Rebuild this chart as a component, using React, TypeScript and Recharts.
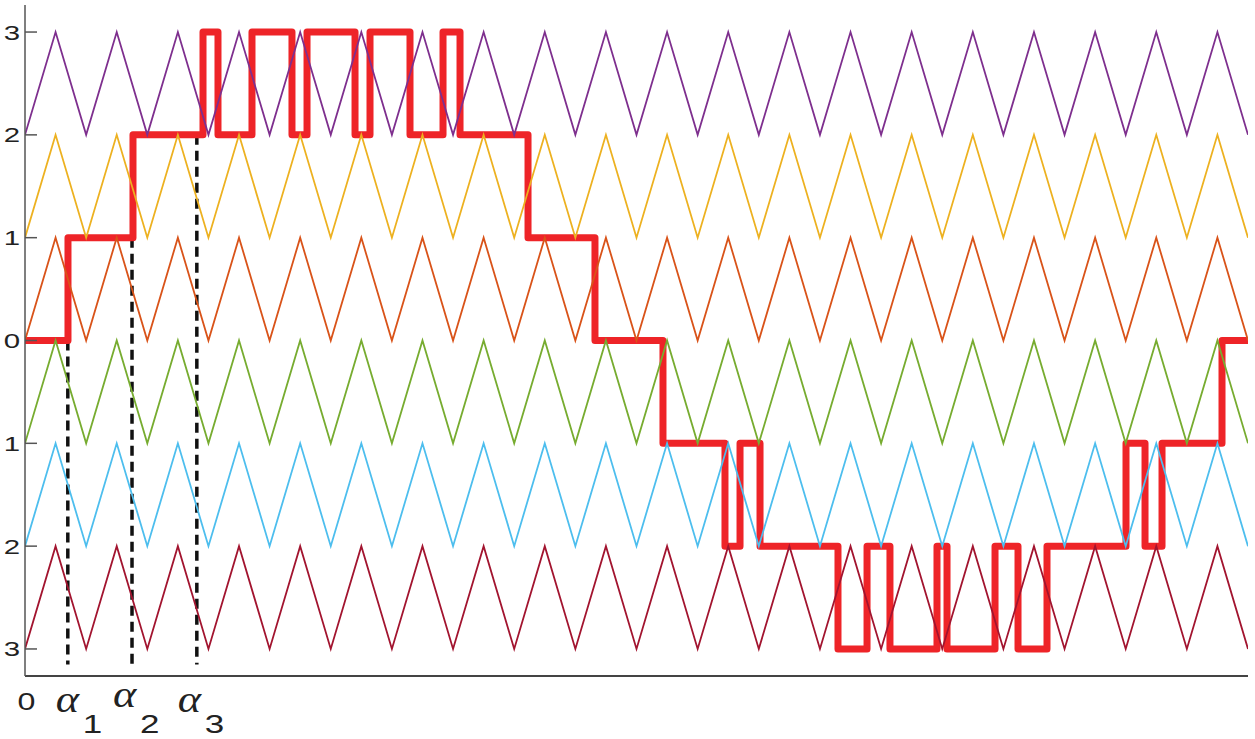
import React from 'react';
import { LineChart, Line, XAxis, YAxis } from 'recharts';

// ---- data ----
const carrierPeriods = 20; // carrier periods across the plot (t in carrier periods)
const carrierBases = [2, 1, 0, -1, -2, -3];
const carrierColors = ['#7E2F8E', '#EDB120', '#D95319', '#77AC30', '#4DBEEE', '#A2142F'];

// red multilevel output: switching instants (carrier periods) and level after each switch
const switchTimes = [
  0.703, 1.766, 2.911, 3.156, 3.712, 4.366, 4.612, 5.397, 5.642, 6.296,
  6.836, 7.114, 8.226, 9.321, 10.433, 11.447, 11.693, 12.02, 13.295, 13.77,
  14.145, 14.914, 15.078, 15.863, 16.239, 16.713, 18.005, 18.316, 18.594, 19.575,
];
const switchLevels = [
  1, 2, 3, 2, 3, 2, 3, 2, 3, 2,
  3, 2, 1, 0, -1, -2, -1, -2, -3, -2,
  -3, -2, -3, -2, -3, -2, -1, -2, -1, 0,
];
const startLevel = 0;

// switching angles marked by dashed lines
const alphaTimes = [0.7, 1.75, 2.81];
const alphaTopLevels = [0, 1, 2];
const alphaBottom = -3.15;
const alphaSubs = ['1', '2', '3'];

const yTicks = [-3, -2, -1, 0, 1, 2, 3];
const yMax = 3.263;

// ---- series built from data ----
const carrierData = carrierBases.map((b) =>
  Array.from({ length: carrierPeriods * 2 + 1 }, (_, k) => ({ t: k * 0.5, v: b + (k % 2) }))
);
const outputData = [
  { t: 0, v: startLevel },
  ...switchTimes.map((t, i) => ({ t, v: switchLevels[i] })),
  { t: carrierPeriods, v: switchLevels[switchLevels.length - 1] },
];
const alphaData = alphaTimes.map((t, i) => [
  { t, v: alphaTopLevels[i] },
  { t, v: alphaBottom },
]);

const SANS = '"Liberation Sans", Arial, Helvetica, sans-serif';
const SERIF = '"Liberation Serif", "Times New Roman", serif';
const STRETCH = 1.4; // the reference's lettering is horizontally stretched

const sansStyle = (size: number): React.CSSProperties => ({
  fontFamily: SANS,
  fontSize: size + 'px',
  fill: '#222',
});

const YTick = (props: any) => {
  const { x, y, payload } = props;
  return (
    <g>
      <line x1={x} x2={x + 12} y1={y} y2={y} stroke="#555" strokeWidth={1.5} />
      <text
        transform={`translate(${x - 5},${y + 7.5}) scale(${STRETCH},1)`}
        textAnchor="end"
        style={sansStyle(21)}
      >
        {String(Math.abs(payload.value))}
      </text>
    </g>
  );
};

const alphaDx = [-10, -17, -17];
const alphaDy = [0, -5, 0];

const XTick = (props: any) => {
  const { x, y, payload, index } = props;
  if (payload.value === 0) {
    return (
      <text
        transform={`translate(${x + 1.5},${y + 34}) scale(${STRETCH},1)`}
        textAnchor="middle"
        style={sansStyle(23)}
      >
        0
      </text>
    );
  }
  const i = alphaTimes.indexOf(payload.value);
  const k = i >= 0 ? i : index - 1;
  const ax = x + alphaDx[k];
  const ay = y + 36 + alphaDy[k];
  return (
    <g>
      <text
        transform={`translate(${ax - 2},${ay}) scale(1.2,1)`}
        style={{ fontFamily: SERIF, fontStyle: 'italic', fontSize: '37px', fill: '#222' }}
      >
        α
      </text>
      <text transform={`translate(${ax + 25},${y + 57}) scale(${STRETCH},1)`} style={sansStyle(25)}>
        {alphaSubs[k]}
      </text>
    </g>
  );
};

export default function App() {
  return (
    <div style={{ position: 'absolute', left: 0, top: 0, width: 1255, height: 739, background: '#fff' }}>
      <LineChart width={1255} height={739} margin={{ top: 5, right: 7, bottom: 0, left: 0 }}>
        <XAxis
          type="number"
          dataKey="t"
          domain={[0, carrierPeriods]}
          ticks={[0, ...alphaTimes]}
          tick={<XTick />}
          tickLine={false}
          tickSize={0}
          tickMargin={0}
          height={63}
          axisLine={{ stroke: '#444', strokeWidth: 2 }}
          allowDataOverflow
          interval={0}
        />
        <YAxis
          type="number"
          dataKey="v"
          domain={[-yMax, yMax]}
          ticks={yTicks}
          tick={<YTick />}
          tickLine={false}
          tickSize={0}
          tickMargin={0}
          width={25}
          axisLine={{ stroke: '#555', strokeWidth: 1.5 }}
          allowDataOverflow
          interval={0}
        />
        {alphaData.map((d, i) => (
          <Line
            key={'a' + i}
            data={d}
            dataKey="v"
            type="linear"
            stroke="#111"
            strokeWidth={3.5}
            strokeDasharray="10 6"
            dot={false}
            activeDot={false}
            isAnimationActive={false}
          />
        ))}
        <Line
          data={outputData}
          dataKey="v"
          type="stepAfter"
          stroke="#EE2428"
          strokeWidth={7}
          strokeLinejoin="round"
          dot={false}
          activeDot={false}
          isAnimationActive={false}
        />
        {carrierData.map((d, i) => (
          <Line
            key={'c' + i}
            data={d}
            dataKey="v"
            type="linear"
            stroke={carrierColors[i]}
            strokeWidth={1.8}
            dot={false}
            activeDot={false}
            isAnimationActive={false}
          />
        ))}
      </LineChart>
    </div>
  );
}
